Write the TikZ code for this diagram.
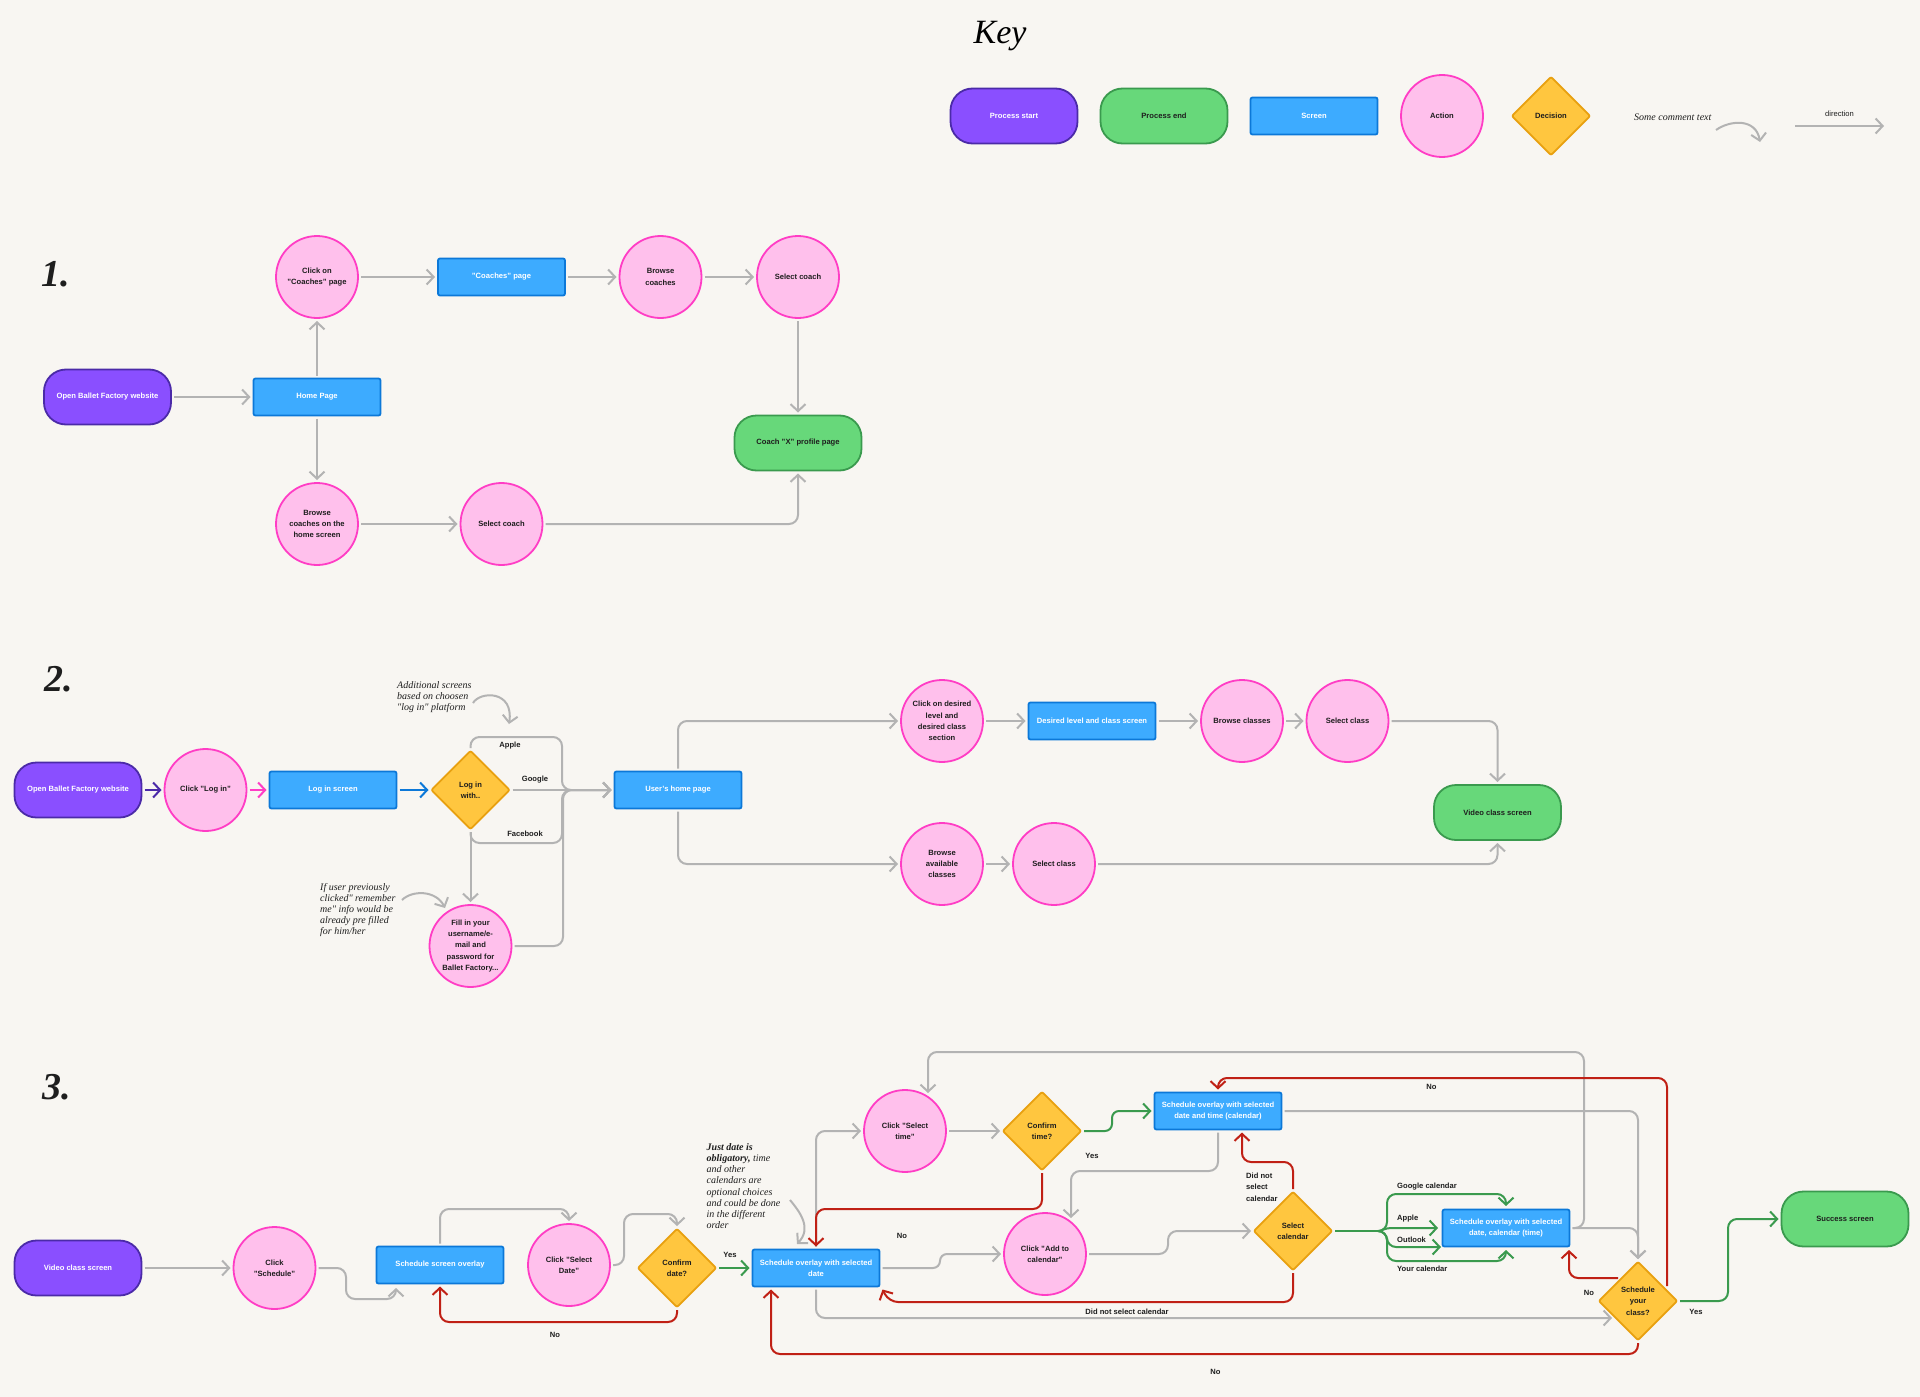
\documentclass[tikz,border=0pt]{standalone}
\usepackage{fontspec}
\setmainfont{Liberation Sans}
\newfontfamily\handfont{Liberation Serif}
\usetikzlibrary{shapes.geometric,arrows.meta}
\definecolor{paper}{HTML}{F8F6F2}
\definecolor{purplefill}{HTML}{8A4FFF}
\definecolor{purpleline}{HTML}{4B2AA8}
\definecolor{greenfill}{HTML}{67D87A}
\definecolor{greenline}{HTML}{3A9A4E}
\definecolor{bluefill}{HTML}{3DABFF}
\definecolor{blueline}{HTML}{0C78D8}
\definecolor{pinkfill}{HTML}{FFC0EC}
\definecolor{pinkline}{HTML}{FF3DC5}
\definecolor{yellowfill}{HTML}{FFC63F}
\definecolor{yellowline}{HTML}{E8A010}
\definecolor{greyline}{HTML}{B3B3B3}
\definecolor{redline}{HTML}{C02015}
\definecolor{inktext}{HTML}{1E1E1E}
\tikzset{
	x=1pt,y=-1pt,
	>={Straight Barb[length=7pt,width=15pt,line width=2pt]},
	bodytext/.style={font=\fontsize{7.6}{11.3}\selectfont\bfseries,align=center,text=inktext},
	startbox/.style={bodytext,draw=purpleline,fill=purplefill,text=white,line width=1.8pt,rounded corners=22pt,minimum width=127pt,minimum height=55pt,inner sep=0pt,outer sep=3pt},
	endbox/.style={bodytext,draw=greenline,fill=greenfill,line width=1.8pt,rounded corners=22pt,minimum width=127pt,minimum height=55pt,inner sep=0pt,outer sep=3pt},
	screenbox/.style={bodytext,draw=blueline,fill=bluefill,text=white,line width=1.8pt,rounded corners=2pt,minimum width=127pt,minimum height=37pt,inner sep=0pt,outer sep=3pt},
	actionbox/.style={bodytext,circle,draw=pinkline,fill=pinkfill,line width=1.8pt,minimum size=82pt,inner sep=0pt,outer sep=3pt},
	decisionbox/.style={bodytext,diamond,aspect=1,draw=yellowline,fill=yellowfill,line width=1.8pt,rounded corners=2pt,minimum width=80pt,minimum height=80pt,inner sep=0pt,outer sep=2pt},
	flowlabel/.style={bodytext,inner sep=0pt},
	notetext/.style={font=\fontsize{10}{11.2}\selectfont\handfont\itshape,align=left,anchor=west,inner sep=0pt,text=inktext},
	marktext/.style={font=\fontsize{38}{38}\selectfont\handfont\bfseries\itshape,inner sep=0pt,text=inktext},
	conn/.style={->,draw=greyline,line width=2pt,rounded corners=9pt},
	redconn/.style={->,draw=redline,line width=2pt,rounded corners=9pt},
	okconn/.style={->,draw=greenline,line width=2pt,rounded corners=9pt},
}
\begin{document}
\begin{tikzpicture}
	\fill[paper] (0,0) rectangle (1920,1397);
	\useasboundingbox (0,0) rectangle (1920,1397);

	\node[font=\fontsize{34}{34}\selectfont\handfont\itshape,inner sep=0pt] (keytitle) at (1000,36) {Key};
	\node[startbox] (keystart) at (1014,116) {Process start};
	\node[endbox] (keyend) at (1164,116) {Process end};
	\node[screenbox] (keyscreen) at (1314,116) {Screen};
	\node[actionbox] (keyaction) at (1442,116) {Action};
	\node[decisionbox] (keydecision) at (1551,116) {Decision};
	\node[notetext] (keynote) at (1634,117) {Some comment text};
	\coordinate (keynoteA) at (1716,130);
	\coordinate (keynoteB) at (1760,142);
	\draw[conn] (keynoteA) .. controls (1730,120) and (1756,118) .. (keynoteB);
	\coordinate (keydirA) at (1795,126);
	\coordinate (keydirB) at (1884,126);
	\draw[conn] (keydirA) -- (keydirB) node[flowlabel,text=inktext,font=\fontsize{7.6}{11.3}\selectfont,midway,yshift=12pt] (keydirlabel) {direction};

	\node[marktext] (markone) at (56,274) {1.};
	\node[startbox] (aopen) at (107.5,397) {Open Ballet Factory website};
	\node[screenbox] (ahome) at (317,397) {Home Page};
	\node[actionbox] (aclick) at (317,277) {Click on\\"Coaches" page};
	\node[screenbox] (acoaches) at (501.5,277) {"Coaches" page};
	\node[actionbox] (abrowse) at (660.5,277) {Browse\\coaches};
	\node[actionbox] (aselect) at (798,277) {Select coach};
	\node[endbox] (aprofile) at (798,443) {Coach "X" profile page};
	\node[actionbox] (ahomebrowse) at (317,524) {Browse\\coaches on the\\home screen};
	\node[actionbox] (ahomeselect) at (501.5,524) {Select coach};
	\draw[conn] (aopen) -- (ahome);
	\draw[conn] (ahome) -- (aclick);
	\draw[conn] (aclick) -- (acoaches);
	\draw[conn] (acoaches) -- (abrowse);
	\draw[conn] (abrowse) -- (aselect);
	\draw[conn] (aselect) -- (aprofile);
	\draw[conn] (ahome) -- (ahomebrowse);
	\draw[conn] (ahomebrowse) -- (ahomeselect);
	\draw[conn] (ahomeselect) -| (aprofile);

	\node[marktext] (marktwo) at (59,679) {2.};
	\node[startbox] (bopen) at (78,790) {Open Ballet Factory website};
	\node[actionbox] (bclick) at (205.5,790) {Click "Log in"};
	\node[screenbox] (blogin) at (333,790) {Log in screen};
	\node[decisionbox] (bwith) at (470.5,790) {Log in\\with..};
	\node[screenbox] (bhome) at (678,790) {User's home page};
	\node[actionbox] (bfill) at (470.5,946) {Fill in your\\username/e-\\mail and\\password for\\Ballet Factory...};
	\node[actionbox] (bdesired) at (942,721) {Click on desired\\level and\\desired class\\section};
	\node[screenbox] (blevel) at (1092,721) {Desired level and class screen};
	\node[actionbox] (bbrowse) at (1242,721) {Browse classes};
	\node[actionbox] (bselect) at (1347.5,721) {Select class};
	\node[endbox] (bvideo) at (1497.5,812.5) {Video class screen};
	\node[actionbox] (bavail) at (942,864) {Browse\\available\\classes};
	\node[actionbox] (bavailselect) at (1054,864) {Select class};
	\draw[->,draw=purpleline,line width=2pt] (bopen) -- (bclick);
	\draw[->,draw=pinkline,line width=2pt] (bclick) -- (blogin);
	\draw[->,draw=blueline,line width=2pt] (blogin) -- (bwith);
	\draw[conn] (bwith.north) |- (562,737) -- (562,790) -- (bhome.west);
	\draw[conn] (bwith) -- (bhome);
	\draw[conn] (bwith.south) |- (562,843) -- (562,790) -- (bhome.west);
	\draw[conn] (bwith) -- (bfill);
	\draw[conn] (bfill.east) -- (563,946) -- (563,790) -- (bhome.west);
	\draw[conn] (bhome.north) |- (bdesired.west);
	\draw[conn] (bhome.south) |- (bavail.west);
	\draw[conn] (bdesired) -- (blevel);
	\draw[conn] (blevel) -- (bbrowse);
	\draw[conn] (bbrowse) -- (bselect);
	\draw[conn] (bavail) -- (bavailselect);
	\draw[conn] (bselect) -| (bvideo);
	\draw[conn] (bavailselect) -| (bvideo);
	\node[flowlabel] (lapple) at (510,746) {Apple};
	\node[flowlabel] (lgoogle) at (535,780) {Google};
	\node[flowlabel] (lfacebook) at (525,834) {Facebook};
	\node[notetext] (bnoteup) at (397,697) {Additional screens\\based on choosen\\"log in" platform};
	\coordinate (bnoteupA) at (473,703);
	\coordinate (bnoteupB) at (509,724);
	\draw[conn] (bnoteupA) .. controls (480,691) and (514,690) .. (bnoteupB);
	\node[notetext] (bnotedown) at (320,910) {If user previously\\clicked" remember\\me" info would be\\already pre filled\\for him/her};
	\coordinate (bnotedownA) at (402,900);
	\coordinate (bnotedownB) at (445,908);
	\draw[conn] (bnotedownA) .. controls (412,890) and (436,890) .. (bnotedownB);

	\node[marktext] (markthree) at (57,1087) {3.};
	\node[startbox] (cvideo) at (78,1268) {Video class screen};
	\node[actionbox] (cschedule) at (274.5,1268) {Click\\"Schedule"};
	\node[screenbox] (coverlay) at (440,1265) {Schedule screen overlay};
	\node[actionbox] (cseldate) at (569,1265) {Click "Select\\Date"};
	\node[decisionbox] (cconfdate) at (677,1268) {Confirm\\date?};
	\node[screenbox] (cdate) at (816,1268) {Schedule overlay with selected\\date};
	\node[actionbox] (cseltime) at (905,1131) {Click "Select\\time"};
	\node[decisionbox] (cconftime) at (1042,1131) {Confirm\\time?};
	\node[screenbox] (cdatetime) at (1218,1111) {Schedule overlay with selected\\date and time (calendar)};
	\node[actionbox] (cadd) at (1045,1254) {Click "Add to\\calendar"};
	\node[decisionbox] (cselcal) at (1293,1231) {Select\\calendar};
	\node[screenbox] (ccalendar) at (1506,1228) {Schedule overlay with selected\\date, calendar (time)};
	\node[decisionbox] (cclass) at (1638,1301) {Schedule\\your\\class?};
	\node[endbox] (csuccess) at (1845,1219) {Success screen};
	\coordinate (cclassno) at (1618,1278);
	\coordinate (cclassup) at (1667,1286);
	\coordinate (cfork) at (1380,1231);
	\draw[conn] (cvideo) -- (cschedule);
	\draw[conn] (cschedule.east) -- (346,1268) -- (346,1299) -- (396,1299) -- (396,1288);
	\draw[conn] (coverlay.north) |- (569,1209) -- (cseldate.north);
	\draw[conn] (cseldate.east) -- (624,1265) -- (624,1214) -- (677,1214) -- (cconfdate.north);
	\draw[redconn] (cconfdate.south) |- (440,1322) -- (coverlay.south);
	\draw[okconn] (cconfdate) -- (cdate);
	\draw[conn] (cdate.north) |- (cseltime.west);
	\draw[redconn] (cconftime.south) |- (816,1209) -- (cdate.north);
	\draw[conn] (cseltime) -- (cconftime);
	\draw[okconn,rounded corners=7pt] (cconftime.east) -- (1112,1131) -- (1112,1111) -- (cdatetime.west);
	\draw[conn] (cdatetime.south) |- (1071,1171) -- (1071,1218);
	\draw[conn,rounded corners=7pt] (cdate.east) -- (940,1268) -- (940,1254) -- (cadd.west);
	\draw[conn] (cadd.east) -- (1168,1254) -- (1168,1231) -- (cselcal.west);
	\draw[redconn] (cselcal.south) |- (889,1302) -- (cdate.south east);
	\draw[redconn] (cselcal.north) |- (1242,1162) -- (1242,0 |- cdatetime.south);
	\draw[conn] (cdate.south) |- (1612,1318);
	\draw[redconn] (cclass.south) |- (771,1354) -- (771,0 |- cdate.south);
	\draw[conn] (cdatetime.east) -| (cclass.north);
	\draw[conn] (ccalendar.east) -| (cclass.north);
	\draw[conn] (ccalendar.east) -- (1584,1228) -- (1584,1052) -- (928,1052) -- (928,1093);
	\draw[redconn] (cclassup) -- (1667,1078) -- (1218,1078) -- (cdatetime.north);
	\draw[redconn] (cclassno) -- (1569,1278) -- (1569,1250);
	\draw[okconn] (cclass.east) -- (1728,1301) -- (1728,1219) -- (csuccess.west);
	\draw[draw=greenline,line width=2pt] (cselcal.east) -- (cfork);
	\draw[okconn] (cfork) -- (1387,1231) -- (1387,1194) -- (1506,1194) -- (1506,1206);
	\draw[okconn,rounded corners=4pt] (cfork) -- (1387,1228) -- (1438,1228);
	\draw[okconn] (cfork) -- (1387,1231) -- (1387,1247) -- (1441,1247);
	\draw[okconn] (cfork) -- (1387,1231) -- (1387,1261) -- (1506,1261) -- (1506,1250);
	\node[flowlabel] (lnodate) at (555,1335) {No};
	\node[flowlabel] (lyesdate) at (730,1255) {Yes};
	\node[flowlabel] (lnotime) at (902,1236) {No};
	\node[flowlabel] (lyestime) at (1092,1156) {Yes};
	\node[flowlabel,align=left,anchor=west] (ldidnot) at (1246,1187) {Did not\\select\\calendar};
	\node[flowlabel] (ldidnotlong) at (1127,1312) {Did not select calendar};
	\node[flowlabel] (lnobottom) at (1215.5,1372) {No};
	\node[flowlabel] (lnotop) at (1431.5,1087) {No};
	\node[flowlabel] (lnoclass) at (1589,1293) {No};
	\node[flowlabel] (lyesclass) at (1696,1312) {Yes};
	\node[flowlabel,anchor=west] (lgooglecal) at (1397,1187) {Google calendar};
	\node[flowlabel,anchor=west] (lapplecal) at (1397,1219) {Apple};
	\node[flowlabel,anchor=west] (loutlook) at (1397,1240) {Outlook};
	\node[flowlabel,anchor=west] (lyourcal) at (1397,1269) {Your calendar};
	\node[notetext] (cnote) at (706.5,1186) {{\bfseries Just date is}\\{\bfseries obligatory,} time\\and other\\calendars are\\optional choices\\and could be done\\in the different\\order};
	\coordinate (cnoteA) at (790,1200);
	\coordinate (cnoteB) at (797,1244);
	\draw[conn] (cnoteA) .. controls (800,1212) and (812,1228) .. (cnoteB);
\end{tikzpicture}
\end{document}
